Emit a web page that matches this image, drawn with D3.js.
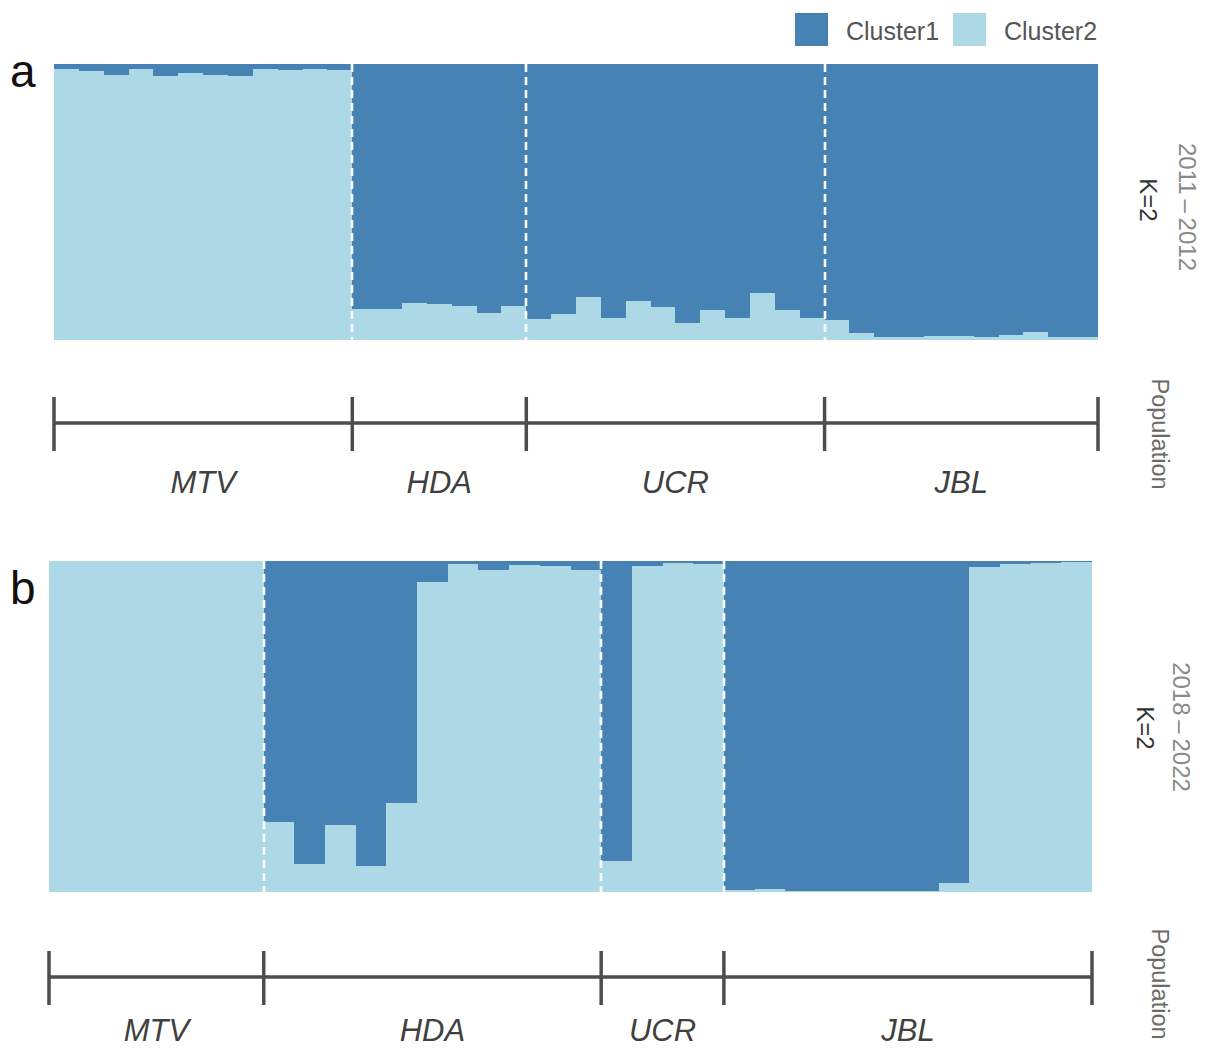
<!DOCTYPE html>
<html>
<head>
<meta charset="utf-8">
<script src="https://cdn.jsdelivr.net/npm/d3@7"></script>
<style>
  html, body { margin: 0; padding: 0; background: #fff; }
  svg { display: block; font-family: "Liberation Sans", Arial, sans-serif; }
</style>
</head>
<body>
<svg id="chart" width="1216" height="1050"></svg>
<script>
// ---- Data: ADMIXTURE membership proportions (K = 2) per individual ----
const clusters = ["Cluster1", "Cluster2"];
const populations = ["MTV", "HDA", "UCR", "JBL"];

// Period 2011–2012
const a_MTV_c1 = [0.018, 0.025, 0.040, 0.018, 0.043, 0.033, 0.040, 0.043, 0.018, 0.022, 0.018, 0.020];
const a_MTV_c2 = [0.982, 0.975, 0.960, 0.982, 0.957, 0.967, 0.960, 0.957, 0.982, 0.978, 0.982, 0.980];
const a_HDA_c1 = [0.889, 0.889, 0.865, 0.871, 0.877, 0.901, 0.876];
const a_HDA_c2 = [0.111, 0.111, 0.135, 0.129, 0.123, 0.099, 0.124];
const a_UCR_c1 = [0.925, 0.906, 0.843, 0.919, 0.858, 0.879, 0.940, 0.891, 0.919, 0.829, 0.891, 0.919];
const a_UCR_c2 = [0.075, 0.094, 0.157, 0.081, 0.142, 0.121, 0.060, 0.109, 0.081, 0.171, 0.109, 0.081];
const a_JBL_c1 = [0.928, 0.976, 0.990, 0.990, 0.986, 0.986, 0.990, 0.982, 0.972, 0.990, 0.990];
const a_JBL_c2 = [0.072, 0.024, 0.010, 0.010, 0.014, 0.014, 0.010, 0.018, 0.028, 0.010, 0.010];

// Period 2018–2022
const b_MTV_c1 = [0.000, 0.000, 0.000, 0.000, 0.000, 0.000, 0.000];
const b_MTV_c2 = [1.000, 1.000, 1.000, 1.000, 1.000, 1.000, 1.000];
const b_HDA_c1 = [0.790, 0.915, 0.798, 0.921, 0.732, 0.062, 0.010, 0.027, 0.012, 0.015, 0.027];
const b_HDA_c2 = [0.210, 0.085, 0.202, 0.079, 0.268, 0.938, 0.990, 0.973, 0.988, 0.985, 0.973];
const b_UCR_c1 = [0.905, 0.015, 0.007, 0.010];
const b_UCR_c2 = [0.095, 0.985, 0.993, 0.990];
const b_JBL_c1 = [0.995, 0.991, 0.996, 0.996, 0.996, 0.996, 0.996, 0.973, 0.017, 0.010, 0.007, 0.004];
const b_JBL_c2 = [0.005, 0.009, 0.004, 0.004, 0.004, 0.004, 0.004, 0.027, 0.983, 0.990, 0.993, 0.996];

const panelLabels = ["a", "b"];
const periodLabels = ["2011\u2009\u2013\u20092012", "2018\u2009\u2013\u20092022"];
const kLabel = "K=2";
const axisTitle = "Population";

const colors = { Cluster1: "#4682B4", Cluster2: "#ADD8E6" };

// Build per-panel individual tables from the arrays above
function buildRows(sets) {
  const rows = [];
  sets.forEach(([pop, c1, c2]) => {
    c1.forEach((v, i) => rows.push({ pop, Cluster1: v, Cluster2: c2[i] }));
  });
  return rows;
}
const panelA = buildRows([
  ["MTV", a_MTV_c1, a_MTV_c2], ["HDA", a_HDA_c1, a_HDA_c2],
  ["UCR", a_UCR_c1, a_UCR_c2], ["JBL", a_JBL_c1, a_JBL_c2]
]);
const panelB = buildRows([
  ["MTV", b_MTV_c1, b_MTV_c2], ["HDA", b_HDA_c1, b_HDA_c2],
  ["UCR", b_UCR_c1, b_UCR_c2], ["JBL", b_JBL_c1, b_JBL_c2]
]);

const svg = d3.select("#chart");
svg.append("rect").attr("width", 1216).attr("height", 1050).attr("fill", "#fff");

// Legend
const legend = svg.append("g");
clusters.forEach((c, i) => {
  const lx = [795, 953][i];
  legend.append("rect").attr("x", lx).attr("y", 13).attr("width", 33).attr("height", 33)
    .attr("fill", colors[c]);
  legend.append("text").attr("x", lx + 51).attr("y", 40)
    .attr("font-size", 25).attr("fill", "#555").text(c);
});

function drawPanel(rows, cfg) {
  const g = svg.append("g");
  const n = rows.length;
  const x = d3.scaleLinear().domain([0, n]).range([cfg.x0, cfg.x1]);
  const y = d3.scaleLinear().domain([0, 1]).range([cfg.yb, cfg.yt]);

  // Stack: Cluster2 at the bottom, Cluster1 above it
  const stack = d3.stack().keys(["Cluster2", "Cluster1"]);
  const series = stack(rows);
  series.forEach(s => {
    g.append("g").attr("shape-rendering", "crispEdges")
      .selectAll("rect").data(s).join("rect")
      .attr("x", (d, i) => Math.round(x(i)))
      .attr("width", (d, i) => Math.round(x(i + 1)) - Math.round(x(i)))
      .attr("y", d => y(d[1]))
      .attr("height", d => y(d[0]) - y(d[1]))
      .attr("fill", colors[s.key]);
  });

  // Population boundaries
  const counts = populations.map(p => rows.filter(r => r.pop === p).length);
  const bounds = [0];
  counts.forEach(c => bounds.push(bounds[bounds.length - 1] + c));
  const inner = bounds.slice(1, -1);
  g.selectAll("line.sep").data(inner).join("line")
    .attr("x1", d => Math.round(x(d))).attr("x2", d => Math.round(x(d)))
    .attr("y1", cfg.yt).attr("y2", cfg.yb)
    .attr("stroke", "#fff").attr("stroke-width", 2.6)
    .attr("stroke-dasharray", "8,5");

  // Population axis
  const ax = g.append("g");
  ax.append("line").attr("x1", x(0)).attr("x2", x(n))
    .attr("y1", cfg.axY).attr("y2", cfg.axY)
    .attr("stroke", "#4d4d4d").attr("stroke-width", 3.5);
  ax.selectAll("line.tick").data(bounds).join("line")
    .attr("x1", d => x(d)).attr("x2", d => x(d))
    .attr("y1", cfg.axY - 26).attr("y2", cfg.axY + 28)
    .attr("stroke", "#4d4d4d").attr("stroke-width", 3.5);
  ax.selectAll("text").data(populations).join("text")
    .attr("x", (d, i) => (x(bounds[i]) + x(bounds[i + 1])) / 2)
    .attr("y", cfg.labY)
    .attr("text-anchor", "middle").attr("font-size", 31).attr("font-style", "italic")
    .attr("fill", "#404040").text(d => d);

  // Panel letter
  svg.append("text").attr("x", cfg.letterX).attr("y", cfg.letterY)
    .attr("font-size", 46).attr("fill", "#111").text(cfg.letter);

  // Right-hand strip labels
  svg.append("text")
    .attr("transform", `translate(${cfg.periodX},${cfg.periodY}) rotate(90)`)
    .attr("text-anchor", "middle").attr("font-size", 24).attr("fill", "#8a8a8a")
    .text(cfg.period);
  svg.append("text")
    .attr("transform", `translate(${cfg.kX},${cfg.kY}) rotate(90)`)
    .attr("text-anchor", "middle").attr("font-size", 24).attr("fill", "#333")
    .text(kLabel);
  svg.append("text")
    .attr("transform", `translate(${cfg.popX},${cfg.popY}) rotate(90)`)
    .attr("text-anchor", "middle").attr("font-size", 23.5).attr("fill", "#6a6a6a")
    .text(axisTitle);
}

drawPanel(panelA, {
  x0: 54, x1: 1098, yt: 64, yb: 340, axY: 423, labY: 493,
  letter: panelLabels[0], letterX: 10, letterY: 87,
  period: periodLabels[0], periodX: 1179, periodY: 207,
  kX: 1140, kY: 200, popX: 1152, popY: 434
});
drawPanel(panelB, {
  x0: 49, x1: 1092, yt: 561, yb: 892, axY: 977, labY: 1041,
  letter: panelLabels[1], letterX: 10, letterY: 604,
  period: periodLabels[1], periodX: 1173, periodY: 727,
  kX: 1137, kY: 728, popX: 1152, popY: 984
});
</script>
</body>
</html>
